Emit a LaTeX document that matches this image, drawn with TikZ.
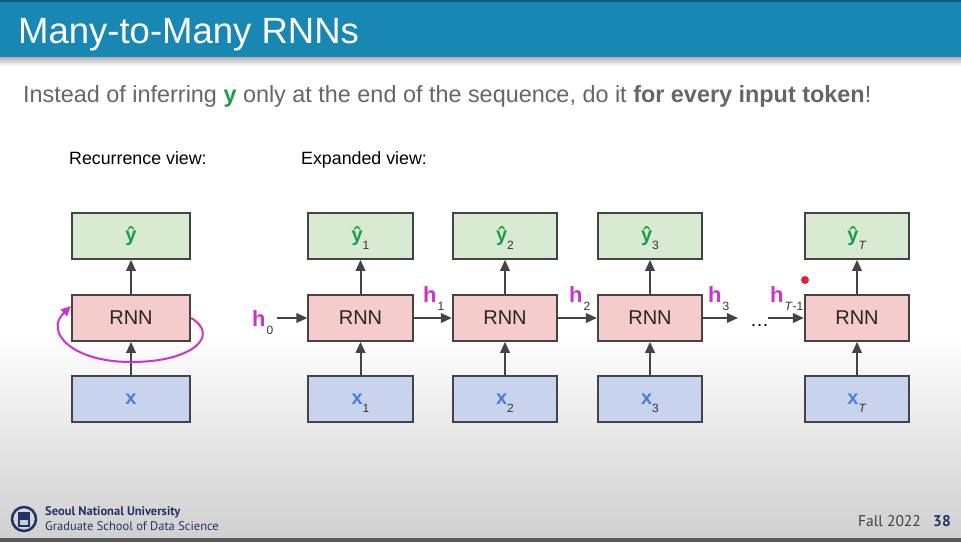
\documentclass[tikz,border=0pt]{standalone}
\usepackage{fontspec}
\setmainfont{Liberation Sans}
\newfontfamily\footfont{PT Sans}
\usetikzlibrary{arrows.meta}
\definecolor{barblue}{HTML}{1987B4}
\definecolor{bardark}{HTML}{0E5A7A}
\definecolor{textgray}{HTML}{666666}
\definecolor{subgray}{HTML}{333333}
\definecolor{edge}{HTML}{444444}
\definecolor{ygreen}{HTML}{1E9B4E}
\definecolor{xblue}{HTML}{4A7FD8}
\definecolor{hmag}{HTML}{CC33CC}
\definecolor{outfill}{HTML}{D9EAD3}
\definecolor{rnnfill}{HTML}{F4CCCC}
\definecolor{infill}{HTML}{C8D4EE}
\definecolor{bgbot}{HTML}{D0D0D0}
\definecolor{navy}{HTML}{1F3466}
\definecolor{laser}{HTML}{E0203A}
\newcommand{\subtxt}[1]{\raisebox{-8pt}[0pt][0pt]{\fontsize{12}{12}\selectfont\color{subgray}\mdseries #1}}
\newcommand{\yout}[1]{{\color{ygreen}\bfseries ŷ}\subtxt{#1}}
\newcommand{\xin}[1]{{\color{xblue}\bfseries x}\subtxt{#1}}
\newcommand{\hlab}[1]{{\color{hmag}\bfseries h}\hspace{1pt}\subtxt{#1}}
\begin{document}
\begin{tikzpicture}
  [x=1pt,y=-1pt,every node/.style={inner sep=0pt}]
  \tikzstyle{box} = [draw=edge,line width=1.7pt,minimum width=104.5pt,minimum height=46pt,font=\fontsize{20}{20}\selectfont]
  \tikzstyle{outbox} = [box,fill=outfill]
  \tikzstyle{rnnbox} = [box,fill=rnnfill,text=black!85]
  \tikzstyle{inbox} = [box,fill=infill]
  \tikzstyle{flow} = [draw=edge,line width=2pt,-{Triangle[length=11pt,width=9.5pt]}]
  \tikzstyle{lbl} = [anchor=base west,font=\fontsize{22}{22}\selectfont]
  \useasboundingbox (0,0) rectangle (961,542);
  % background and title bar
  \fill[white] (0,0) rectangle (961,330);
  \shade[top color=white,bottom color=bgbot] (0,330) rectangle (961,538);
  \fill[black!65] (0,538) rectangle (961,542);
  \shade[top color=black!30,bottom color=white] (0,57) rectangle (961,66);
  \fill[barblue] (0,0) rectangle (961,57);
  \fill[bardark] (0,0) rectangle (961,2);
  \node[anchor=base west,text=white,font=\fontsize{36.5}{37}\selectfont] (title) at (18,43) {Many-to-Many RNNs};
  \node[anchor=base west,text=textgray,font=\fontsize{23.4}{26}\selectfont] (intro) at (23,102)
    {Instead of inferring {\color{ygreen}\bfseries y} only at the end of the sequence, do it \textbf{for every input token}!};
  \node[anchor=base west,font=\fontsize{17.8}{18}\selectfont] (recv) at (69,164) {Recurrence view:};
  \node[anchor=base west,font=\fontsize{17.8}{18}\selectfont] (expv) at (301,164) {Expanded view:};
  % recurrence view
  \node[outbox,minimum width=118.5pt] (yL) at (131,236) {\yout{}};
  \node[rnnbox,minimum width=118.5pt] (rL) at (131,318) {RNN};
  \node[inbox,minimum width=118.5pt] (xL) at (131,399) {\xin{}};
  \draw[flow] (xL) -- (rL);
  \draw[flow] (rL) -- (yL);
  \draw[hmag,line width=2pt,-{Triangle[length=10pt,width=9pt]}] (rL.east)
    .. controls (220,335) and (194,362) .. (131,362)
    .. controls (72,362) and (44,332) .. ([yshift=12pt]rL.west);
  % expanded view
  \foreach \i /\xc /\sub in {1/360.5/1,2/505/2,3/650/3,T/857/\textit{T}} {
    \node[outbox] (y\i) at (\xc,236) {\yout{\sub}};
    \node[rnnbox] (r\i) at (\xc,318) {RNN};
    \node[inbox] (x\i) at (\xc,399) {\xin{\sub}};
    \draw[flow] (x\i) -- (r\i);
    \draw[flow] (r\i) -- (y\i);
  }
  \coordinate (h0in) at (277,318);
  \coordinate (h3out) at (738,318);
  \coordinate (hTin) at (768,318);
  \foreach \source /\dest in {h0in/r1,r1/r2,r2/r3,r3/h3out,hTin/rT}
    \draw[flow] (\source) -- (\dest);
  \node[lbl] (h0) at (252,326) {\hlab{0}};
  \node[lbl] (h1) at (423,302) {\hlab{1}};
  \node[lbl] (h2) at (569,302) {\hlab{2}};
  \node[lbl] (h3) at (708,302) {\hlab{3}};
  \node[lbl] (hT) at (770,302) {\hlab{\textit{T}-1}};
  \node[anchor=base west,font=\fontsize{19}{19}\selectfont] (dots) at (750,326) {…};
  \fill[laser] (805,280) circle (4);
  % footer
  \draw[navy,line width=2.5pt] (24,519) circle (12);
  \fill[navy] (18,512) rectangle (30,527);
  \fill[white!75!navy] (20,520) rectangle (28,525);
  \node[anchor=base west,text=navy,font=\footfont\bfseries\fontsize{12.5}{13}\selectfont] (snu) at (45,515) {Seoul National University};
  \node[anchor=base west,text=navy,font=\footfont\fontsize{12.5}{13}\selectfont] (gsds) at (45,530) {Graduate School of Data Science};
  \node[anchor=base west,text=black!75,font=\footfont\fontsize{15.5}{16}\selectfont] (term) at (858,526) {Fall 2022};
  \node[anchor=base west,text=navy,font=\footfont\bfseries\fontsize{15.5}{16}\selectfont] (page) at (933,526) {38};
\end{tikzpicture}
\end{document}
